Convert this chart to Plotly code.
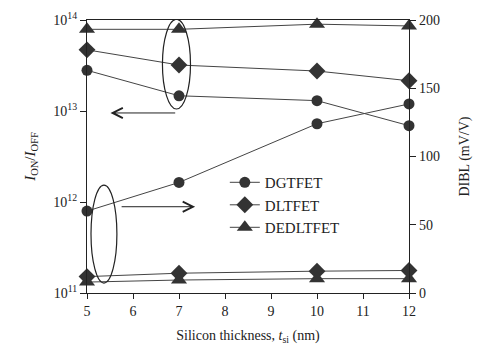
import plotly.graph_objects as go

# Data
thickness = [5, 7, 10, 12]
series_names = ["DGTFET", "DLTFET", "DEDLTFET"]
onoff_dgtfet = [2.8e13, 1.47e13, 1.3e13, 6.9e12]
onoff_dltfet = [4.7e13, 3.2e13, 2.75e13, 2.15e13]
onoff_dedltfet = [7.9e13, 7.9e13, 9.0e13, 8.6e13]
dibl_dgtfet = [60, 81, 124, 138.5]
dibl_dltfet = [12, 14.5, 16, 16.5]
dibl_dedltfet = [8, 9.5, 10.5, 10.5]
left_tickvals = [1e11, 1e12, 1e13, 1e14]
left_ticktext = ["10<sup>11</sup>", "10<sup>12</sup>", "10<sup>13</sup>", "10<sup>14</sup>"]
right_tickvals = [0, 50, 100, 150, 200]
x_tickvals = [5, 6, 7, 8, 9, 10, 11, 12]

FONT = "Liberation Serif, Times New Roman, serif"
MC = "#333333"
LC = "#444444"
symbols = {"DGTFET": "circle", "DLTFET": "diamond", "DEDLTFET": "triangle-up"}
sizes = {"DGTFET": 11, "DLTFET": 13, "DEDLTFET": 14}

fig = go.Figure()
onoff = {"DGTFET": onoff_dgtfet, "DLTFET": onoff_dltfet, "DEDLTFET": onoff_dedltfet}
dibl = {"DGTFET": dibl_dgtfet, "DLTFET": dibl_dltfet, "DEDLTFET": dibl_dedltfet}
for name in series_names:
    fig.add_trace(go.Scatter(
        x=thickness, y=onoff[name], name=name, mode="lines+markers",
        line=dict(color=LC, width=1),
        marker=dict(symbol=symbols[name], size=sizes[name], color=MC),
        cliponaxis=False, yaxis="y", legendgroup=name, showlegend=True))
for name in series_names:
    fig.add_trace(go.Scatter(
        x=thickness, y=dibl[name], name=name, mode="lines+markers",
        line=dict(color=LC, width=1),
        marker=dict(symbol=symbols[name], size=sizes[name], color=MC),
        cliponaxis=False, yaxis="y2", legendgroup=name, showlegend=False))

# ellipses (decorations) on DIBL axis coordinates
fig.add_shape(type="circle", xref="x", yref="y2", x0=6.64, x1=7.25, y0=134.8, y1=200.5,
              line=dict(color="#222", width=1.2))
fig.add_shape(type="circle", xref="x", yref="y2", x0=5.087, x1=5.65, y0=7.3, y1=79.1,
              line=dict(color="#222", width=1.2))
# arrows
fig.add_annotation(x=5.51, y=131.9, ax=6.95, ay=131.9, xref="x", yref="y2", axref="x", ayref="y2",
                   showarrow=True, arrowhead=5, arrowsize=2, arrowwidth=1, arrowcolor="#222", text="")
fig.add_annotation(x=7.35, y=63.2, ax=5.72, ay=63.2, xref="x", yref="y2", axref="x", ayref="y2",
                   showarrow=True, arrowhead=5, arrowsize=2, arrowwidth=1, arrowcolor="#222", text="")

axis_common = dict(showline=True, linecolor="#222", linewidth=1.2, ticks="outside",
                   ticklen=6, tickcolor="#222", showgrid=False, zeroline=False, automargin=False,
                   tickfont=dict(family=FONT, size=14, color="#222"))
fig.update_layout(
    width=486, height=351,
    margin=dict(l=87, r=77, t=20, b=58),
    paper_bgcolor="white", plot_bgcolor="white",
    font=dict(family=FONT, size=14, color="#222"),
    xaxis=dict(range=[5, 12], tickvals=x_tickvals, mirror=True, ticklen=5,
               title=dict(text="Silicon thickness, <i>t</i><sub>si</sub> (nm)", standoff=12,
                          font=dict(family=FONT, size=14)),
               **{k: v for k, v in axis_common.items() if k != "ticklen"}),
    yaxis=dict(type="log", range=[11, 14], tickvals=left_tickvals, ticktext=left_ticktext,
               title=dict(text="<i>I</i><sub>ON</sub>/<i>I</i><sub>OFF</sub>", standoff=14,
                          font=dict(family=FONT, size=15)),
               **axis_common),
    yaxis2=dict(range=[0, 200], tickvals=right_tickvals, overlaying="y", side="right",
                title=dict(text="DIBL (mV/V)", standoff=20, font=dict(family=FONT, size=14)),
                **axis_common),
    legend=dict(x=0.428, y=0.465, xanchor="left", yanchor="top", bgcolor="rgba(0,0,0,0)",
                font=dict(family=FONT, size=15, color="#222"), tracegroupgap=0),
    showlegend=True,
)
fig.write_html("out.html")
